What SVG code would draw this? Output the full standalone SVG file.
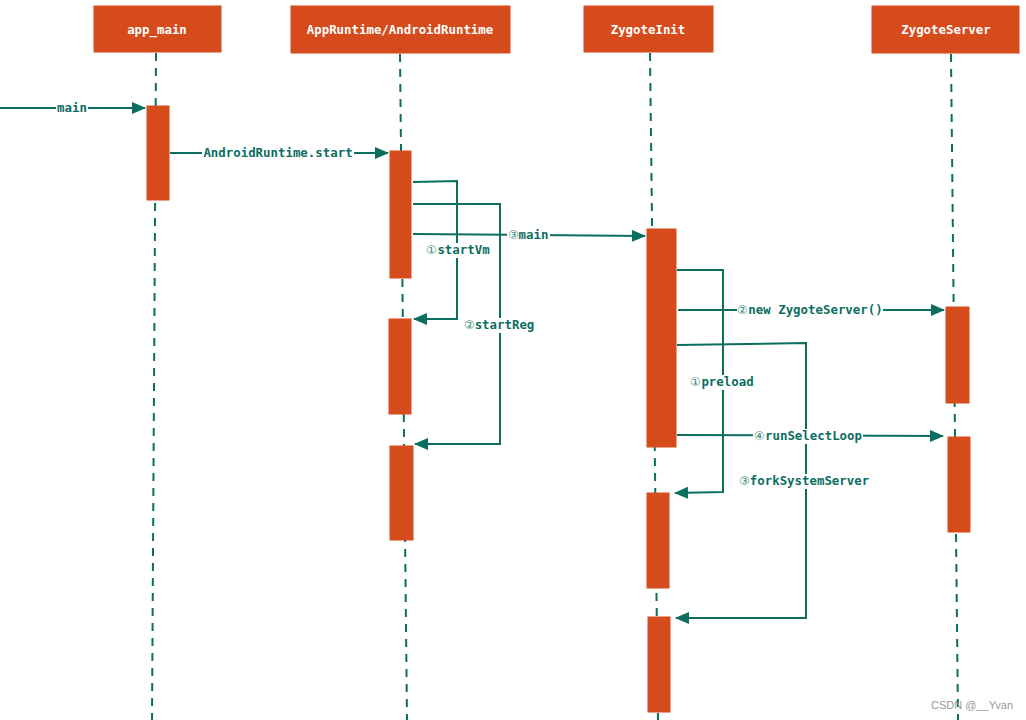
<svg xmlns="http://www.w3.org/2000/svg" width="1026" height="720" viewBox="0 0 1026 720">
<defs>
<style>
.hdr{fill:#d64b1c;stroke:#d64b1c;stroke-width:1}
.hdr-t{font-family:"DejaVu Sans Mono",monospace;font-size:12.4px;font-weight:bold;fill:#fff;text-anchor:middle}
.life{stroke:#0b6e5f;stroke-width:2;stroke-dasharray:8 7;fill:none}
.act{fill:#d64b1c;stroke:#d64b1c;stroke-width:1}
.msg{stroke:#0b6e5f;stroke-width:2;fill:none}
.bg{fill:#fff}
.lbl{font-family:"DejaVu Sans Mono",monospace;font-size:12.4px;font-weight:bold;fill:#0b6e5f;text-anchor:middle}
.num{font-weight:normal;fill:#3b8c7e}
.wm{font-family:"Liberation Sans",Arial,sans-serif;font-size:11px;fill:#999}
</style>
<marker id="ah" markerWidth="14" markerHeight="12" refX="13" refY="6" orient="auto" markerUnits="userSpaceOnUse">
<path d="M0,0 L14,6 L0,12 Z" fill="#0b6e5f"/>
</marker>
</defs>
<rect width="1026" height="720" fill="#fff"/>

<g id="lifelines">
<line class="life" x1="156" y1="53" x2="152" y2="720"/>
<line class="life" x1="400" y1="54" x2="407" y2="720"/>
<line class="life" x1="650" y1="53" x2="658" y2="720"/>
<line class="life" x1="951" y1="54" x2="958" y2="720"/>
</g>

<g id="app_main">
<rect class="hdr" x="94" y="6" width="127" height="46"/>
<text class="hdr-t" x="157" y="34">app_main</text>
<rect class="act" x="147" y="106" width="22" height="94"/>
</g>

<g id="AndroidRuntime">
<rect class="hdr" x="291" y="6" width="219" height="47"/>
<text class="hdr-t" x="400" y="34">AppRuntime/AndroidRuntime</text>
<rect class="act" x="390" y="151" width="21" height="127"/>
<rect class="act" x="389" y="319" width="22" height="95"/>
<rect class="act" x="390" y="446" width="23" height="94"/>
</g>

<g id="ZygoteInit">
<rect class="hdr" x="584" y="6" width="129" height="46"/>
<text class="hdr-t" x="648" y="34">ZygoteInit</text>
<rect class="act" x="647" y="229" width="29" height="218"/>
<rect class="act" x="647" y="493" width="22" height="95"/>
<rect class="act" x="648" y="617" width="22" height="95"/>
</g>

<g id="ZygoteServer">
<rect class="hdr" x="872" y="6" width="147" height="47"/>
<text class="hdr-t" x="946" y="34">ZygoteServer</text>
<rect class="act" x="946" y="307" width="23" height="96"/>
<rect class="act" x="948" y="437" width="22" height="95"/>
</g>

<g id="connectors">
<path class="msg" d="M0,108 L145,108" marker-end="url(#ah)"/>
<path class="msg" d="M170,153 L388,153" marker-end="url(#ah)"/>
<path class="msg" d="M413,182 L457,181 L457,319 L414,319" marker-end="url(#ah)"/>
<path class="msg" d="M413,204 L500,204 L500,444 L415,444" marker-end="url(#ah)"/>
<path class="msg" d="M413,234 L645,236" marker-end="url(#ah)"/>
<path class="msg" d="M677,270 L723,270 L723,492 L675,493" marker-end="url(#ah)"/>
<path class="msg" d="M678,310 L944,310" marker-end="url(#ah)"/>
<path class="msg" d="M677,345 L806,343 L806,618 L676,618" marker-end="url(#ah)"/>
<path class="msg" d="M677,435 L943,436" marker-end="url(#ah)"/>
</g>

<g id="labels">
<rect class="bg" x="56" y="101" width="32" height="15"/>
<text class="lbl" x="72" y="112">main</text>
<rect class="bg" x="202" y="146" width="152" height="15"/>
<text class="lbl" x="278" y="157">AndroidRuntime.start</text>
<rect class="bg" x="425" y="243" width="66" height="15"/>
<text class="lbl" x="458" y="254"><tspan class="num">①</tspan>startVm</text>
<rect class="bg" x="463" y="318" width="72" height="15"/>
<text class="lbl" x="499" y="329"><tspan class="num">②</tspan>startReg</text>
<rect class="bg" x="507" y="228" width="43" height="15"/>
<text class="lbl" x="528" y="239"><tspan class="num">③</tspan>main</text>
<rect class="bg" x="690" y="375" width="65" height="15"/>
<text class="lbl" x="722" y="386"><tspan class="num">①</tspan>preload</text>
<rect class="bg" x="737" y="303" width="146" height="15"/>
<text class="lbl" x="810" y="314"><tspan class="num">②</tspan>new ZygoteServer()</text>
<rect class="bg" x="737" y="474" width="134" height="15"/>
<text class="lbl" x="804" y="485"><tspan class="num">③</tspan>forkSystemServer</text>
<rect class="bg" x="753" y="429" width="110" height="15"/>
<text class="lbl" x="808" y="440"><tspan class="num">④</tspan>runSelectLoop</text>
</g>

<text class="wm" x="931" y="709">CSDN @__Yvan</text>
</svg>
